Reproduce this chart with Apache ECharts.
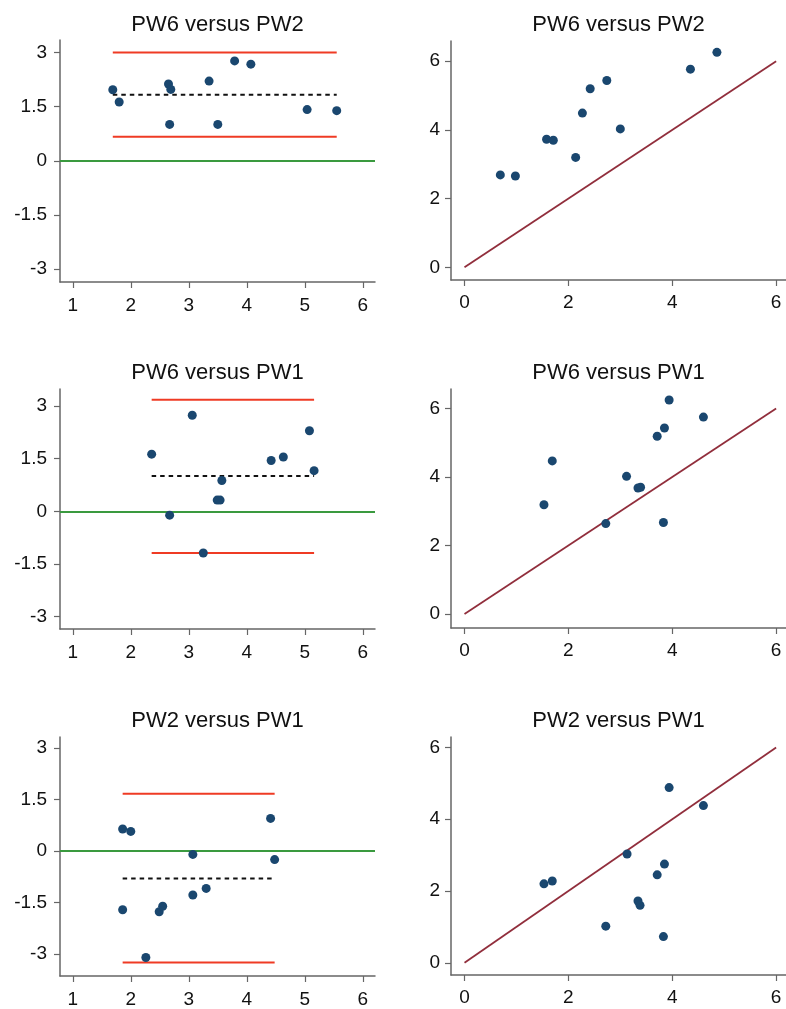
<!DOCTYPE html>
<html><head><meta charset="utf-8">
<script src="https://cdn.jsdelivr.net/npm/echarts@6/dist/echarts.min.js"></script>
<style>html,body{margin:0;padding:0;background:#fff}#c{width:786px;height:1009px}</style>
</head><body><div id="c"></div>
<script>
// ---- tick labels ----
const baTicksX = [1, 2, 3, 4, 5, 6];
const baTicksY = [-3, -1.5, 0, 1.5, 3];
const scTicks = [0, 2, 4, 6];
const titles = ['PW6 versus PW2', 'PW6 versus PW2', 'PW6 versus PW1', 'PW6 versus PW1', 'PW2 versus PW1', 'PW2 versus PW1'];

// ---- Panel 1: PW6 versus PW2 (Bland-Altman: mean, difference) ----
const ba1Mean = [1.69, 1.80, 2.65, 2.69, 2.67, 3.35, 3.50, 3.79, 4.07, 5.04, 5.55];
const ba1Diff = [1.97, 1.63, 2.13, 1.98, 1.01, 2.21, 1.01, 2.77, 2.68, 1.42, 1.39];
const ba1Limits = [0.67, 1.83, 3.00]; // lower, mean, upper
// ---- Panel 1 scatter: PW2 (x) vs PW6 (y) ----
const sc1X = [0.69, 0.98, 1.58, 1.71, 2.14, 2.27, 2.42, 2.74, 3.00, 4.35, 4.86];
const sc1Y = [2.69, 2.66, 3.73, 3.70, 3.20, 4.49, 5.20, 5.44, 4.03, 5.77, 6.26];

// ---- Panel 2: PW6 versus PW1 ----
const ba2Mean = [2.36, 3.06, 2.67, 3.25, 3.49, 3.54, 3.57, 4.42, 4.63, 5.08, 5.16];
const ba2Diff = [1.63, 2.74, -0.11, -1.19, 0.32, 0.32, 0.88, 1.45, 1.55, 2.30, 1.16];
const ba2Limits = [-1.19, 1.01, 3.18];
const sc2X = [1.69, 1.53, 2.72, 3.12, 3.34, 3.39, 3.71, 3.85, 3.94, 3.83, 4.60];
const sc2Y = [4.47, 3.19, 2.64, 4.02, 3.68, 3.70, 5.19, 5.43, 6.25, 2.67, 5.75];

// ---- Panel 3: PW2 versus PW1 ----
const ba3Mean = [1.86, 2.00, 1.86, 2.26, 2.49, 2.55, 3.07, 3.07, 3.30, 4.41, 4.48];
const ba3Diff = [0.64, 0.57, -1.71, -3.10, -1.77, -1.61, -0.10, -1.28, -1.09, 0.95, -0.25];
const ba3Limits = [-3.25, -0.80, 1.67];
const sc3X = [1.53, 1.69, 2.72, 3.13, 3.34, 3.38, 3.71, 3.85, 3.94, 3.83, 4.60];
const sc3Y = [2.20, 2.28, 1.02, 3.03, 1.72, 1.60, 2.45, 2.75, 4.88, 0.73, 4.38];

const identity = [0, 6];

// ---- layout / styling ----
const DOT = '#1a476f', RED = '#ef3b24', GREEN = '#3a9a3f', MAROON = '#912e3c', AX = '#666';
const FONT = '"Liberation Sans", Arial, Helvetica, sans-serif';

const grids = [
  {left: 60, top: 40, width: 315, height: 242},
  {left: 451, top: 41, width: 335, height: 239},
  {left: 60, top: 389, width: 315, height: 240},
  {left: 451, top: 389, width: 335, height: 239},
  {left: 60, top: 737, width: 315, height: 240},
  {left: 451, top: 737, width: 335, height: 238}
];
const xRanges = [[0.78, 6.21], [-0.26, 6.19], [0.78, 6.21], [-0.26, 6.19], [0.78, 6.21], [-0.26, 6.19]];
const yRanges = [[-3.36, 3.35], [-0.37, 6.59], [-3.36, 3.49], [-0.41, 6.57], [-3.64, 3.32], [-0.34, 6.29]];
const titleTops = [14, 14, 362, 362, 710, 710];

function mkAxis(idx, range, ticks, margin) {
  return {
    type: 'value', gridIndex: idx, min: range[0], max: range[1], scale: true,
    axisLine: {show: true, onZero: false, lineStyle: {color: AX, width: 1.5}},
    axisTick: {show: true, customValues: ticks, length: 6, lineStyle: {color: AX, width: 1.2}},
    axisLabel: {show: true, customValues: ticks, margin: margin, color: '#111', fontSize: 19, fontFamily: FONT,
      formatter: v => String(v)},
    splitLine: {show: false}
  };
}

const xAxes = [], yAxes = [], series = [], titleArr = [];
for (let i = 0; i < 6; i++) {
  const isBA = i % 2 === 0;
  xAxes.push(mkAxis(i, xRanges[i], isBA ? baTicksX : scTicks, isBA ? 14 : 13));
  yAxes.push(mkAxis(i, yRanges[i], isBA ? baTicksY : scTicks, isBA ? 13 : 11));
  const g = grids[i];
  titleArr.push({text: titles[i], left: g.left + g.width / 2, top: titleTops[i], textAlign: 'center', padding: 0,
    textStyle: {fontSize: 22, fontWeight: 'normal', color: '#111', fontFamily: FONT}});
}

const baSets = [[ba1Mean, ba1Diff, ba1Limits], [ba2Mean, ba2Diff, ba2Limits], [ba3Mean, ba3Diff, ba3Limits]];
const scSets = [[sc1X, sc1Y], [sc2X, sc2Y], [sc3X, sc3Y]];

function lineSeries(idx, data, color, width, type, z, extra) {
  return Object.assign({type: 'line', xAxisIndex: idx, yAxisIndex: idx, data: data, showSymbol: false, symbol: 'none',
    silent: true, z: z, lineStyle: {color: color, width: width, type: type}, animation: false}, extra || {});
}

const dotStyle = {color: DOT, opacity: 1};

baSets.forEach((s, k) => {
  const idx = k * 2;
  const [m, d, lim] = s;
  const x0 = Math.min(...m), x1 = Math.max(...m);
  series.push(lineSeries(idx, [[x0, lim[2]], [x1, lim[2]]], RED, 2, 'solid', 2, {
    markLine: {silent: true, symbol: 'none', label: {show: false}, animation: false,
      lineStyle: {color: GREEN, width: 2, type: 'solid'}, data: [{yAxis: 0}]}
  }));
  series.push(lineSeries(idx, [[x0, lim[0]], [x1, lim[0]]], RED, 2, 'solid', 2));
  series.push(lineSeries(idx, [[x0, lim[1]], [x1, lim[1]]], '#111', 2, [4.5, 4], 3));
  series.push({type: 'scatter', xAxisIndex: idx, yAxisIndex: idx, z: 5, symbol: 'circle', symbolSize: 9,
    itemStyle: dotStyle, animation: false, data: m.map((v, j) => [v, d[j]])});
});

scSets.forEach((s, k) => {
  const idx = k * 2 + 1;
  const [xs, ys] = s;
  series.push(lineSeries(idx, [[identity[0], identity[0]], [identity[1], identity[1]]], MAROON, 1.8, 'solid', 2));
  series.push({type: 'scatter', xAxisIndex: idx, yAxisIndex: idx, z: 5, symbol: 'circle', symbolSize: 9,
    itemStyle: dotStyle, animation: false, data: xs.map((v, j) => [v, ys[j]])});
});

const chart = echarts.init(document.getElementById('c'), null, {renderer: 'canvas'});
chart.setOption({
  backgroundColor: '#fff', animation: false,
  title: titleArr, grid: grids, xAxis: xAxes, yAxis: yAxes, series: series
});
</script></body></html>
